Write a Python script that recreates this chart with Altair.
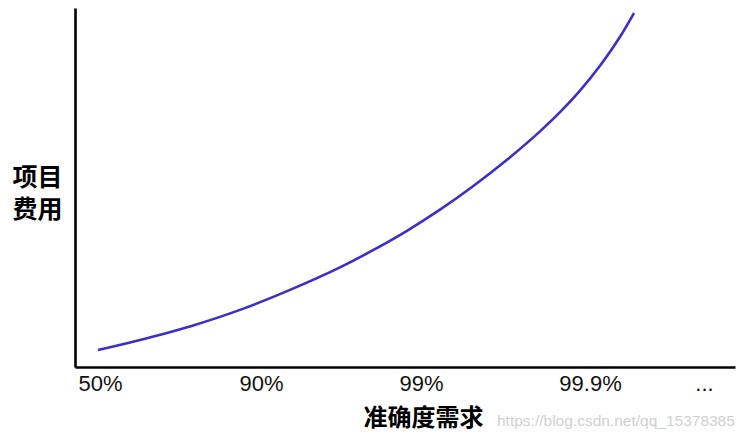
import altair as alt
import pandas as pd

# curve (x: position along accuracy axis, y: project cost)
x_pos = [23, 65, 115, 165, 215, 265, 298, 332, 365, 398, 432, 465, 485, 505, 525, 545, 559]
cost = [17, 27.1, 40.6, 57.1, 77.1, 99.6, 116.8, 136.2, 157.3, 180.7, 207.2, 235.6, 254.8,
        276.4, 301.2, 330.2, 354]

tick_pos = [25, 186, 346, 515, 629]
tick_labels = ["50%", "90%", "99%", "99.9%", "..."]

df = pd.DataFrame({"x": x_pos, "y": cost})

expr = "''"
for p, l in reversed(list(zip(tick_pos, tick_labels))):
    expr = f"datum.value == {p} ? '{l}' : ({expr})"

line = alt.Chart(df).mark_line(color="#3b2fc9", strokeWidth=2.6, interpolate="monotone").encode(
    x=alt.X("x:Q", scale=alt.Scale(domain=[0, 660], nice=False, zero=False),
            axis=alt.Axis(values=tick_pos, labelExpr=expr, ticks=False, grid=False,
                          domainColor="#000000", domainWidth=2.6,
                          labelFont="Liberation Sans", labelFontSize=22, labelColor="#111111",
                          labelPadding=6, labelFlush=False, labelOverlap=False,
                          title="准确度需求", titleFont="Noto Sans CJK SC", titleFontSize=24,
                          titleFontWeight="bold", titleColor="#000000",
                          titleX=348, titleY=51, titleAlign="center", titleBaseline="middle")),
    y=alt.Y("y:Q", scale=alt.Scale(domain=[0, 359], nice=False),
            axis=alt.Axis(labels=False, ticks=False, grid=False,
                          domainColor="#000000", domainWidth=2.6,
                          title=["项目", "费用"], titleAngle=0, titleFont="Noto Sans CJK SC",
                          titleFontSize=25, titleFontWeight="bold", titleColor="#000000",
                          titleLineHeight=32,
                          titleX=-38, titleY=169, titleAlign="center", titleBaseline="middle")),
)

wm = alt.Chart(pd.DataFrame({"t": ["https://blog.csdn.net/qq_15378385"]})).mark_text(
    align="left", baseline="middle", fontSize=15.5, font="Liberation Sans", color="#d0d0d0"
).encode(x=alt.value(422), y=alt.value(413), text="t:N")

chart = alt.layer(line, wm).properties(
    width=660, height=359,
    autosize=alt.AutoSizeParams(type="none"),
    padding={"left": 67, "top": 0, "right": 5, "bottom": 65},
).configure_view(stroke=None)

chart.save("out.html", embed_options={"renderer": "svg", "actions": False})
